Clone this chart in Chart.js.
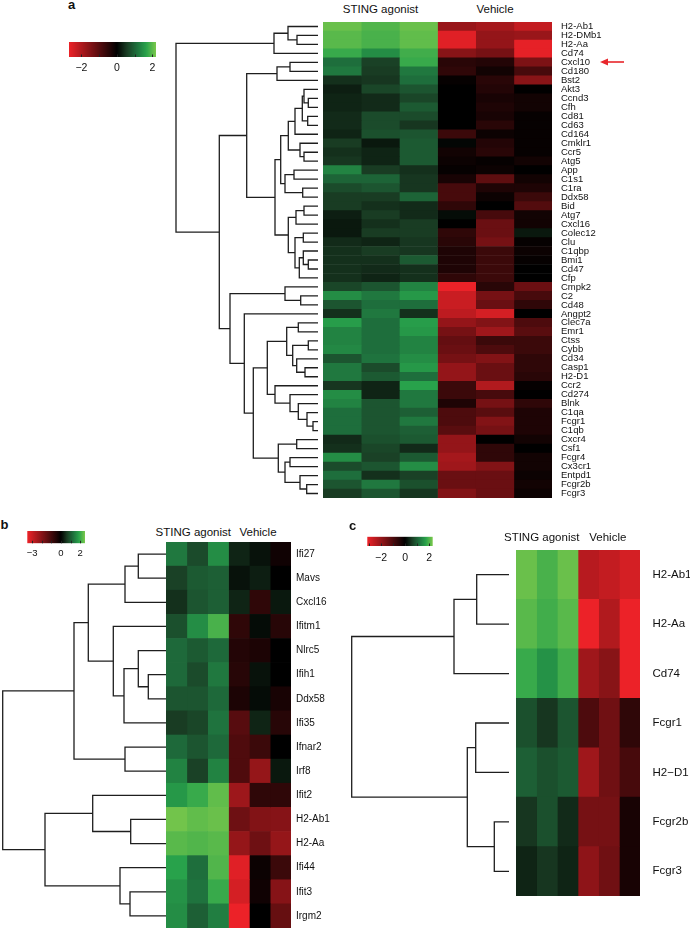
<!DOCTYPE html>
<html>
<head>
<meta charset="utf-8">
<script src="https://cdn.jsdelivr.net/npm/chart.js@4.4.1/dist/chart.umd.min.js"></script>
<style>
  html, body { margin: 0; padding: 0; background: #fff; }
  #page { position: relative; width: 690px; height: 929px; overflow: hidden;
          font-family: "Liberation Sans", Arial, Helvetica, sans-serif; color: #111; }
  .txt { position: absolute; white-space: nowrap; line-height: 1; }
</style>
</head>
<body>
<div id="page"></div>
<script>
'use strict';

// ─── Datos ────────────────────────────────────────────────────────────────────
const samples = ['STING 1', 'STING 2', 'STING 3', 'Vehicle 1', 'Vehicle 2', 'Vehicle 3'];

// Panel a
const genesA = ['H2-Ab1', 'H2-DMb1', 'H2-Aa', 'Cd74', 'Cxcl10', 'Cd180', 'Bst2', 'Akt3', 'Ccnd3', 'Cfh',
  'Cd81', 'Cd63', 'Cd164', 'Cmklr1', 'Ccr5', 'Atg5', 'App', 'C1s1', 'C1ra', 'Ddx58', 'Bid', 'Atg7',
  'Cxcl16', 'Colec12', 'Clu', 'C1qbp', 'Bmi1', 'Cd47', 'Cfp', 'Cmpk2', 'C2', 'Cd48', 'Angpt2', 'Clec7a',
  'Emr1', 'Ctss', 'Cybb', 'Cd34', 'Casp1', 'H2-D1', 'Ccr2', 'Cd274', 'Blnk', 'C1qa', 'Fcgr1', 'C1qb',
  'Cxcr4', 'Csf1', 'Fcgr4', 'Cx3cr1', 'Entpd1', 'Fcgr2b', 'Fcgr3'];

const valuesA = [
  [1.9, 1.75, 1.9, -1.3, -1.4, -1.65],
  [1.8, 1.7, 1.85, -1.9, -1.25, -1.3],
  [1.8, 1.7, 1.85, -1.9, -1.25, -1.95],
  [1.6, 1.3, 1.65, -1.15, -1.0, -1.95],
  [1.0, 0.55, 1.6, -0.35, -0.3, -1.05],
  [1.1, 0.5, 1.1, -0.4, -0.15, -0.6],
  [0.4, 0.45, 1.0, -0.05, -0.35, -1.15],
  [0.25, 0.6, 0.75, 0, -0.3, 0],
  [0.3, 0.35, 0.6, 0, -0.2, -0.15],
  [0.3, 0.35, 0.8, 0, -0.25, -0.15],
  [0.35, 0.65, 0.65, 0, -0.2, -0.05],
  [0.35, 0.65, 0.45, 0, -0.35, -0.05],
  [0.3, 0.7, 0.75, -0.5, -0.1, -0.05],
  [0.5, 0.2, 0.8, 0.05, -0.3, -0.05],
  [0.4, 0.3, 0.8, -0.15, -0.35, -0.05],
  [0.45, 0.3, 0.8, -0.1, -0.05, -0.15],
  [1.2, 0.5, 0.4, -0.05, -0.1, 0],
  [0.9, 0.9, 0.45, -0.2, -0.8, -0.15],
  [0.65, 0.75, 0.45, -0.6, -0.25, -0.25],
  [0.5, 0.5, 0.9, -0.6, -0.1, -0.5],
  [0.5, 0.4, 0.35, -0.4, 0, -0.7],
  [0.25, 0.5, 0.35, 0.1, -0.6, -0.15],
  [0.2, 0.4, 0.5, 0, -0.9, -0.15],
  [0.2, 0.5, 0.5, -0.4, -0.9, 0.2],
  [0.35, 0.3, 0.45, -0.35, -1.0, -0.05],
  [0.4, 0.5, 0.45, -0.25, -0.5, -0.1],
  [0.4, 0.4, 0.8, -0.25, -0.5, -0.05],
  [0.4, 0.35, 0.4, -0.25, -0.5, 0],
  [0.4, 0.3, 0.4, -0.4, -0.5, 0],
  [0.6, 0.75, 1.2, -2.0, -0.35, -0.9],
  [1.3, 1.1, 1.4, -1.7, -1.0, -0.6],
  [0.75, 1.0, 1.0, -1.7, -0.9, -0.4],
  [0.4, 1.1, 0.4, -1.6, -1.8, 0],
  [1.45, 1.0, 1.45, -1.25, -1.1, -0.65],
  [1.2, 1.0, 1.4, -1.0, -1.35, -0.75],
  [1.2, 1.0, 1.2, -0.85, -0.5, -0.5],
  [1.25, 1.0, 1.2, -0.9, -0.65, -0.5],
  [0.75, 1.05, 1.3, -1.0, -1.1, -0.4],
  [1.1, 0.65, 1.4, -1.25, -0.9, -0.4],
  [1.1, 0.8, 1.0, -1.25, -0.9, -0.35],
  [0.45, 0.3, 1.5, -0.5, -1.5, -0.05],
  [1.3, 0.3, 1.1, -0.5, -0.6, 0],
  [1.2, 0.75, 1.1, -0.25, -1.0, -0.4],
  [1.0, 0.75, 0.85, -0.65, -0.75, -0.25],
  [1.0, 0.75, 1.1, -0.65, -1.1, -0.25],
  [1.0, 0.75, 0.85, -0.75, -1.0, -0.25],
  [0.35, 0.7, 0.8, -1.25, 0, -0.15],
  [0.4, 0.6, 0.35, -1.25, -0.4, 0],
  [1.3, 0.55, 0.8, -1.4, -0.4, -0.15],
  [0.65, 0.75, 1.3, -1.35, -1.1, -0.15],
  [1.0, 0.4, 0.55, -0.9, -0.9, -0.1],
  [0.75, 1.1, 0.7, -0.9, -0.9, -0.15],
  [0.5, 0.75, 0.45, -1.1, -0.9, -0.1],
];

// Árbol (formato hclust: hoja = -(fila+1), nodo = índice 1-based) y altura
const mergesA = [
  [-2, -3, 21], [-1, 1, 30], [2, -4, 44], [-5, -6, 28], [4, -7, 41],
  [-9, -10, 9.7], [-8, 6, 14], [-11, -12, 10.3], [7, 8, 15.7], [9, -13, 23],
  [-15, -16, 14], [-14, 11, 18], [10, 12, 29.7], [-17, -18, 24], [-19, -20, 15.3],
  [14, 15, 33], [13, 16, 37.3], [-21, -22, 14], [18, -23, 22], [-24, -25, 14.7],
  [-27, -28, 9.7], [-26, 21, 14.7], [22, -29, 18.7], [20, 23, 23], [19, 24, 29.7],
  [17, 25, 43], [5, 26, 71.3], [-31, -32, 17.3], [-30, 28, 33], [-34, -35, 19.7],
  [-36, -37, 9.7], [-39, -40, 13], [-38, 32, 21.3], [31, 33, 25.3], [30, 34, 31.3],
  [-45, -46, 5], [-44, 36, 11], [-43, 37, 19.7], [-42, 38, 28], [-41, 39, 43],
  [35, 40, 50.7], [-47, -48, 21.3], [-49, -50, 28], [-52, -53, 11.3], [-51, 44, 18],
  [43, 45, 33], [42, 46, 39.7], [41, 47, 64.7], [-33, 48, 73.7], [29, 49, 88],
  [27, 50, 98.7], [3, 51, 142],
];

// Panel b
const genesB = ['Ifi27', 'Mavs', 'Cxcl16', 'Ifitm1', 'Nlrc5', 'Ifih1', 'Ddx58', 'Ifi35', 'Ifnar2',
  'Irf8', 'Ifit2', 'H2-Ab1', 'H2-Aa', 'Ifi44', 'Ifit3', 'Irgm2'];

const valuesB = [
  [1.1, 0.65, 1.3, 0.3, 0.15, -0.2],
  [0.55, 0.8, 0.85, 0.15, 0.25, 0],
  [0.4, 0.75, 0.85, 0.3, -0.6, 0.2],
  [0.7, 1.3, 1.7, -0.6, 0.1, -0.5],
  [0.95, 0.8, 0.95, -0.45, -0.35, 0],
  [0.95, 0.65, 1.1, -0.5, 0.15, 0],
  [0.75, 0.75, 0.95, -0.35, 0.1, -0.3],
  [0.5, 0.6, 1.05, -1.1, 0.3, -0.5],
  [0.95, 0.75, 0.95, -1.0, -0.75, 0],
  [1.2, 0.55, 1.2, -1.0, -1.9, 0.2],
  [1.4, 1.6, 1.85, -2.0, -0.6, -0.6],
  [1.95, 1.85, 1.9, -1.4, -1.65, -1.7],
  [1.8, 1.75, 1.8, -1.9, -1.4, -1.9],
  [1.5, 1.0, 1.75, -2.85, -0.15, -0.75],
  [1.35, 1.05, 1.6, -2.7, -0.2, -1.7],
  [1.3, 0.85, 1.15, -3.0, 0, -1.3],
];

const mergesB = [
  [-6, -7, 17.7], [-5, 1, 27.7], [2, -8, 42], [-4, 3, 52.7], [-1, -2, 27.7],
  [5, -3, 41], [6, 4, 77.7], [-9, -10, 41], [7, 8, 92], [-12, -13, 35.3],
  [-11, 10, 73.3], [-15, -16, 36], [-14, 12, 46], [11, 13, 121], [9, 14, 163.3],
];

// Panel c
const genesC = ['H2-Ab1', 'H2-Aa', 'Cd74', 'Fcgr1', 'H2\u2212D1', 'Fcgr2b', 'Fcgr3'];

const valuesC = [
  [1.9, 1.7, 1.9, -1.55, -1.65, -1.8],
  [1.8, 1.65, 1.8, -2.0, -1.5, -2.0],
  [1.6, 1.35, 1.65, -1.35, -1.15, -2.0],
  [0.7, 0.45, 0.75, -0.65, -0.95, -0.4],
  [0.85, 0.7, 0.8, -1.35, -0.95, -0.6],
  [0.45, 0.7, 0.35, -1.0, -1.0, -0.2],
  [0.3, 0.45, 0.3, -1.2, -0.95, -0.2],
];

const mergesC = [
  [-1, -2, 32.3], [1, -3, 55], [-4, -5, 33.3], [-6, -7, 14.7], [3, 4, 41.7], [2, 5, 157.3],
];

// Barras de color: marcas y etiquetas
const legendTicksA = [-2, -1, 0, 1, 2];
const legendLabelsA = [-2, 0, 2];
const legendTicksB = [-3, -2, -1, 0, 1, 2];
const legendLabelsB = [-3, 0, 2];
const legendTicksC = [-3, -2, -1, 0, 1, 2];
const legendLabelsC = [-2, 0, 2];

// ─── Estilo ───────────────────────────────────────────────────────────────────
const FONT = '"Liberation Sans", Arial, Helvetica, sans-serif';
const LINE = '#1e1e1e';

const RED_STOPS = [[0, [0, 0, 0]], [1, [236, 34, 40]]];
const GREEN_STOPS = [[0, [0, 0, 0]], [0.25, [25, 60, 35]], [0.5, [30, 110, 60]],
  [0.75, [40, 162, 75]], [1, [122, 200, 75]]];

Chart.defaults.font.family = FONT;

function lerpStops(stops, t) {
  for (let i = 1; i < stops.length; i++) {
    const [t1, c1] = stops[i];
    const [t0, c0] = stops[i - 1];
    if (t <= t1) {
      const f = (t - t0) / (t1 - t0);
      return c0.map((c, k) => Math.round(c + (c1[k] - c) * f));
    }
  }
  return stops[stops.length - 1][1];
}

// lo < 0 < hi: extremos de la escala de color
function heatColor(v, lo, hi) {
  const neg = v < 0;
  const t = Math.min(1, neg ? v / lo : v / hi);
  const [r, g, b] = lerpStops(neg ? RED_STOPS : GREEN_STOPS, t);
  return `rgb(${r},${g},${b})`;
}

// ─── Utilidades DOM ───────────────────────────────────────────────────────────
const page = document.getElementById('page');

function placeCanvas(x0, y0, x1, y1) {
  const L = Math.floor(x0), T = Math.floor(y0), R = Math.ceil(x1), B = Math.ceil(y1);
  const c = document.createElement('canvas');
  c.width = R - L;
  c.height = B - T;
  c.style.cssText = `position:absolute;left:${L}px;top:${T}px;width:${R - L}px;height:${B - T}px`;
  page.appendChild(c);
  return { canvas: c, L, T, R, B };
}

// Texto colocado por línea base (Liberation Sans: baseline ≈ top + 0.8465·size)
function addText(str, x, baseline, size, opts = {}) {
  const d = document.createElement('div');
  d.className = 'txt';
  d.textContent = str;
  d.style.fontSize = size + 'px';
  d.style.left = x + 'px';
  d.style.top = (baseline - 0.8465 * size) + 'px';
  if (opts.bold) d.style.fontWeight = 'bold';
  if (opts.center) d.style.transform = 'translateX(-50%)';
  page.appendChild(d);
}

const fmtTick = v => (v < 0 ? '\u2212' + Math.abs(v) : String(v));

// ─── Heatmap (barras apiladas horizontales) ───────────────────────────────────
function makeHeatmap(genes, values, lo, hi, cfg) {
  const PAD = 26;
  const box = placeCanvas(cfg.x, cfg.y - PAD, cfg.x + cfg.w + cfg.labelW, cfg.y + cfg.h + PAD);
  const axisW = box.R - (cfg.x + cfg.w);

  const datasets = samples.map((s, k) => ({
    label: s,
    data: genes.map(() => 1),
    backgroundColor: values.map(row => heatColor(row[k], lo, hi)),
    borderWidth: 0,
    barPercentage: 1,
    categoryPercentage: 1,
  }));

  return new Chart(box.canvas, {
    type: 'bar',
    data: { labels: genes, datasets },
    options: {
      indexAxis: 'y',
      responsive: false,
      animation: false,
      events: [],
      layout: { padding: { left: cfg.x - box.L, right: 0, top: cfg.y - box.T, bottom: box.B - (cfg.y + cfg.h) } },
      plugins: { legend: { display: false }, tooltip: { enabled: false } },
      scales: {
        x: { stacked: true, min: 0, max: samples.length, display: false },
        y: {
          stacked: true,
          position: 'right',
          grid: { display: false, drawTicks: false },
          border: { display: false },
          ticks: { autoSkip: false, padding: cfg.labelPad, color: '#111', font: { size: cfg.fontSize } },
          afterFit: s => { s.width = axisW; },
        },
      },
    },
  });
}

// ─── Dendrograma (líneas en escala lineal) ────────────────────────────────────
function dendroLinks(merges) {
  const pos = [], hgt = [];
  const ref = r => (r < 0 ? { y: -r - 1, h: 0 } : { y: pos[r - 1], h: hgt[r - 1] });
  return merges.map(([a, b, h]) => {
    const A = ref(a), B = ref(b);
    pos.push((A.y + B.y) / 2);
    hgt.push(h);
    return [{ x: A.h, y: A.y }, { x: h, y: A.y }, { x: h, y: B.y }, { x: B.h, y: B.y }];
  });
}

function makeDendro(merges, n, cfg) {
  const box = placeCanvas(cfg.rootX - 3, cfg.y, cfg.leafX + 3, cfg.y + cfg.h);
  const rootH = merges[merges.length - 1][2];
  const datasets = dendroLinks(merges).map(pts => ({
    data: pts,
    showLine: true,
    pointRadius: 0,
    borderColor: LINE,
    borderWidth: 1.3,
    borderJoinStyle: 'miter',
    clip: false,
  }));

  return new Chart(box.canvas, {
    type: 'scatter',
    data: { datasets },
    options: {
      responsive: false,
      animation: false,
      events: [],
      layout: { padding: { left: cfg.rootX - box.L, right: box.R - cfg.leafX, top: cfg.y - box.T, bottom: box.B - (cfg.y + cfg.h) } },
      plugins: { legend: { display: false }, tooltip: { enabled: false } },
      scales: {
        x: { type: 'linear', min: 0, max: rootH, reverse: true, display: false },
        y: { type: 'linear', min: -0.5, max: n - 0.5, reverse: true, display: false },
      },
    },
  });
}

// ─── Barra de color ───────────────────────────────────────────────────────────
const tickMarks = {
  id: 'tickMarks',
  afterDatasetsDraw(chart) {
    const { ctx, chartArea: a, scales: { x } } = chart;
    ctx.save();
    ctx.strokeStyle = '#222';
    ctx.lineWidth = 1;
    x.ticks.forEach(t => {
      const px = Math.round(x.getPixelForValue(t.value)) + 0.5;
      ctx.beginPath();
      ctx.moveTo(px, a.bottom - 2.5);
      ctx.lineTo(px, a.bottom);
      ctx.stroke();
    });
    ctx.restore();
  },
};

function makeLegend(ticks, labels, cfg) {
  const AXIS_H = 24;
  const box = placeCanvas(cfg.x - 14, cfg.y - 4, cfg.x + cfg.w + 14, cfg.y + cfg.h + AXIS_H);
  const axisH = box.B - (cfg.y + cfg.h);

  const gradient = ctx => {
    const area = ctx.chart.chartArea;
    if (!area) return '#000';
    const g = ctx.chart.ctx.createLinearGradient(area.left, 0, area.right, 0);
    const steps = 40;
    for (let i = 0; i <= steps; i++) {
      const v = cfg.min + (cfg.max - cfg.min) * i / steps;
      g.addColorStop(i / steps, heatColor(v, cfg.min, cfg.max));
    }
    return g;
  };

  return new Chart(box.canvas, {
    type: 'bar',
    data: {
      labels: [''],
      datasets: [{ data: [[cfg.min, cfg.max]], backgroundColor: gradient, borderWidth: 0,
        barPercentage: 1, categoryPercentage: 1 }],
    },
    options: {
      indexAxis: 'y',
      responsive: false,
      animation: false,
      events: [],
      layout: { padding: { left: cfg.x - box.L, right: box.R - (cfg.x + cfg.w), top: cfg.y - box.T, bottom: 0 } },
      plugins: { legend: { display: false }, tooltip: { enabled: false } },
      scales: {
        x: {
          type: 'linear',
          min: cfg.min,
          max: cfg.max,
          grid: { display: false, drawTicks: false },
          border: { display: false },
          afterBuildTicks: s => { s.ticks = ticks.map(v => ({ value: v })); },
          afterFit: s => { s.height = axisH; },
          ticks: {
            padding: cfg.pad,
            color: '#111',
            font: { size: cfg.fontSize },
            maxRotation: 0,
            autoSkip: false,
            callback: v => (labels.includes(v) ? fmtTick(v) : ''),
          },
        },
        y: { display: false },
      },
    },
    plugins: [tickMarks],
  });
}

// ─── Panel a ──────────────────────────────────────────────────────────────────
addText('a', 68, 8.5, 13, { bold: true });
makeLegend(legendTicksA, legendLabelsA, { x: 69, y: 42, w: 87, h: 15, min: -2.7, max: 2.2, pad: 5, fontSize: 10.5 });
addText('STING agonist', 380.5, 14, 11.5, { center: true });
addText('Vehicle', 495, 14, 11.5, { center: true });
makeDendro(mergesA, genesA.length, { rootX: 176, leafX: 318, y: 22, h: 476 });
makeHeatmap(genesA, valuesA, -2, 2, { x: 323, y: 22, w: 229, h: 476, labelW: 60, labelPad: 9, fontSize: 9.5 });

// flecha roja junto a Cxcl10
const arrow = document.createElementNS('http://www.w3.org/2000/svg', 'svg');
arrow.setAttribute('width', '28');
arrow.setAttribute('height', '10');
arrow.style.cssText = 'position:absolute;left:599px;top:57px';
arrow.innerHTML = '<line x1="7" y1="5" x2="25" y2="5" stroke="#e8262b" stroke-width="1.6"/>' +
  '<polygon points="1,5 9,1.6 9,8.4" fill="#e8262b"/>';
page.appendChild(arrow);

// ─── Panel b ──────────────────────────────────────────────────────────────────
addText('b', 0.5, 529.3, 13, { bold: true });
makeLegend(legendTicksB, legendLabelsB, { x: 27.3, y: 531, w: 57.7, h: 12.3, min: -3.5, max: 2.5, pad: 4.5, fontSize: 9.5 });
addText('STING agonist', 193.3, 536.5, 11.5, { center: true });
addText('Vehicle', 258, 536.5, 11.5, { center: true });
makeDendro(mergesB, genesB.length, { rootX: 2.7, leafX: 166, y: 542, h: 386 });
makeHeatmap(genesB, valuesB, -3, 2, { x: 166, y: 542, w: 125, h: 386, labelW: 45, labelPad: 5, fontSize: 10 });

// ─── Panel c ──────────────────────────────────────────────────────────────────
addText('c', 349, 530, 13, { bold: true });
makeLegend(legendTicksC, legendLabelsC, { x: 367.3, y: 536.7, w: 65.4, h: 9.3, min: -3.15, max: 2.3, pad: 5.5, fontSize: 10.5 });
addText('STING agonist', 541.7, 541.5, 11.5, { center: true });
addText('Vehicle', 607.8, 541.5, 11.5, { center: true });
makeDendro(mergesC, genesC.length, { rootX: 351.7, leafX: 509, y: 550, h: 346 });
makeHeatmap(genesC, valuesC, -2, 2, { x: 516, y: 550, w: 124, h: 346, labelW: 50, labelPad: 12.5, fontSize: 11.5 });
</script>
</body>
</html>
